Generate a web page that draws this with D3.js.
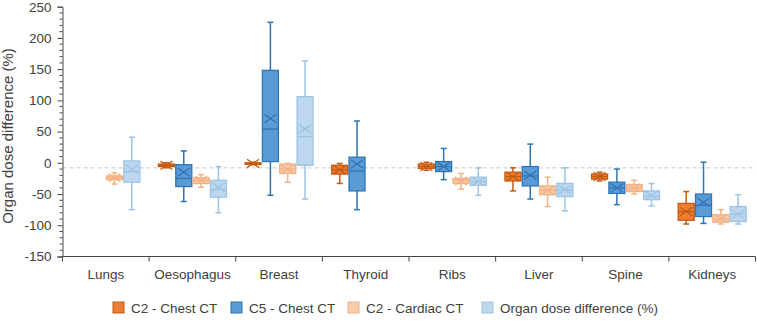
<!DOCTYPE html>
<html><head><meta charset="utf-8">
<script src="https://cdn.jsdelivr.net/npm/d3@7"></script>
<style>body{margin:0;background:#fff}svg{display:block;font-family:"Liberation Sans",Arial,sans-serif}</style>
</head><body><svg id="c" width="757" height="331"></svg>
<script>
const categories = ["Lungs","Oesophagus","Breast","Thyroid","Ribs","Liver","Spine","Kidneys"];
const seriesNames = ["C2 - Chest CT","C5 - Chest CT","C2 - Cardiac CT","Organ dose difference (%)"];
const yTicks = [-150,-100,-50,0,50,100,150,200,250];
const refLine = -8;
// each entry: [min, q1, median, q3, max, mean]
const c2Chest = [null,[-8,-6,-4,-2,0,-4],[-3,-2,-1,0,1,-1],[-33,-18,-11,-4,-1,-11],[-12,-9,-6,-2,1,-6],[-45,-29,-22,-15,-8,-22],[-29,-26,-22,-18,-15,-22],[-98,-92,-78,-65,-46,-78]];
const c5Chest = [null,[-62,-38,-25,-3,19,-15],[-52,2,54,148,225,71],[-75,-45,-13,9,67,-2],[-27,-14,-6,2,23,-6],[-58,-37,-21,-6,30,-20],[-67,-49,-40,-31,-10,-40],[-97,-86,-68,-50,1,-63]];
const c2Cardiac = [[-34,-27,-24,-21,-16,-24],[-39,-33,-28,-24,-19,-28],[-31,-17,-10,-2,-1,-10],null,[-42,-33,-28,-25,-17,-29],[-70,-51,-44,-37,-23,-44],[-50,-46,-40,-35,-28,-40],[-98,-95,-90,-83,-75,-89]];
const organDiff = [[-75,-31,-14,3,41,-10],[-80,-55,-43,-28,-6,-39],[-58,-4,42,106,163,54],null,[-52,-36,-30,-23,-8,-30],[-77,-54,-44,-33,-8,-43],[-69,-59,-53,-45,-33,-52],[-98,-94,-82,-70,-51,-82]];
const seriesData = [c2Chest,c5Chest,c2Cardiac,organDiff];
const fills = ["#ED7D31","#5B9BD5","#F8CBAD","#BDD7EE"];
const strokes = ["#C55A11","#2E75B6","#F4B183","#9DC3E6"];

const svg = d3.select("#c");
const x = d3.scaleBand().domain(categories).range([62.5,755.5]).padding(0);
const bw = x.bandwidth();
const xs = d3.scaleBand().domain(seriesNames).range([bw*0.1, bw*0.9]).padding(0);
const y = d3.scaleLinear().domain([-150,250]).range([256.5,6.7]);
const boxW = 16;

// reference dashed line
svg.append("line").attr("x1",62.5).attr("x2",755.5).attr("y1",y(refLine)).attr("y2",y(refLine))
  .attr("stroke","#d0d0d0").attr("stroke-width",1.2).attr("stroke-dasharray","4,3");

// y axis
const yAxis = d3.axisLeft(y).tickValues(yTicks).tickSize(5).tickPadding(6).tickFormat(d=>String(d));
const gy = svg.append("g").attr("transform","translate(62.5,0)").call(yAxis);
gy.attr("font-family",null);
gy.select(".domain").attr("stroke","#444");
gy.selectAll(".tick line").attr("stroke","#444");
gy.selectAll("text").attr("font-size",13.5).attr("fill","#404040").attr("font-family","Liberation Sans, Arial, sans-serif");
// minor ticks
const minor = d3.range(-150,251,10).filter(v=>v%50!==0);
svg.append("g").selectAll("line").data(minor).join("line")
  .attr("x1",59.5).attr("x2",62.5).attr("y1",d=>y(d)).attr("y2",d=>y(d)).attr("stroke","#444");

// x axis
const gx = svg.append("g").attr("transform","translate(0,256.5)");
gx.append("line").attr("x1",62.5).attr("x2",755.5).attr("stroke","#444");
gx.selectAll(".sep").data(d3.range(categories.length+1)).join("line")
  .attr("x1",i=>62.5+i*bw).attr("x2",i=>62.5+i*bw).attr("y1",0).attr("y2",5).attr("stroke","#444");
gx.selectAll("text").data(categories).join("text")
  .attr("x",d=>x(d)+bw/2).attr("y",22).attr("text-anchor","middle")
  .attr("font-size",13.5).attr("fill","#404040").text(d=>d);

// y title
svg.append("text").attr("transform","translate(13,136) rotate(-90)").attr("text-anchor","middle")
  .attr("font-size",15).attr("fill","#404040").text("Organ dose difference (%)");

// boxes
seriesData.forEach((arr,si)=>{
  const g = svg.append("g");
  arr.forEach((d,ci)=>{
    if(!d) return;
    const cx = x(categories[ci]) + xs(seriesNames[si]) + xs.bandwidth()/2;
    const [mn,q1,md,q3,mx,mean] = d;
    const col = strokes[si];
    g.append("line").attr("x1",cx).attr("x2",cx).attr("y1",y(mx)).attr("y2",y(q3)).attr("stroke",col).attr("stroke-width",1.5);
    g.append("line").attr("x1",cx).attr("x2",cx).attr("y1",y(q1)).attr("y2",y(mn)).attr("stroke",col).attr("stroke-width",1.5);
    [mn,mx].forEach(v=>g.append("line").attr("x1",cx-3).attr("x2",cx+3).attr("y1",y(v)).attr("y2",y(v)).attr("stroke",col).attr("stroke-width",1.5));
    g.append("rect").attr("x",cx-boxW/2).attr("width",boxW).attr("y",y(q3)).attr("height",Math.max(1.5,y(q1)-y(q3)))
      .attr("fill",fills[si]).attr("stroke",col).attr("stroke-width",1.3);
    g.append("line").attr("x1",cx-boxW/2).attr("x2",cx+boxW/2).attr("y1",y(md)).attr("y2",y(md)).attr("stroke",col).attr("stroke-width",1.3);
    const s = 6;
    const my = y(mean);
    g.append("path").attr("d",`M${cx-s},${my-s*0.7}L${cx+s},${my+s*0.7}M${cx-s},${my+s*0.7}L${cx+s},${my-s*0.7}`)
      .attr("stroke",col).attr("stroke-width",1.3).attr("fill","none");
  });
});

// legend
const legX = [113,231,348,482];
const lg = svg.append("g");
seriesNames.forEach((n,i)=>{
  lg.append("rect").attr("x",legX[i]).attr("y",302).attr("width",11).attr("height",11)
    .attr("fill",fills[i]).attr("stroke",strokes[i]).attr("stroke-width",1);
  lg.append("text").attr("x",legX[i]+18).attr("y",312.5).attr("font-size",13.5).attr("fill","#404040").text(n);
});
</script></body></html>
